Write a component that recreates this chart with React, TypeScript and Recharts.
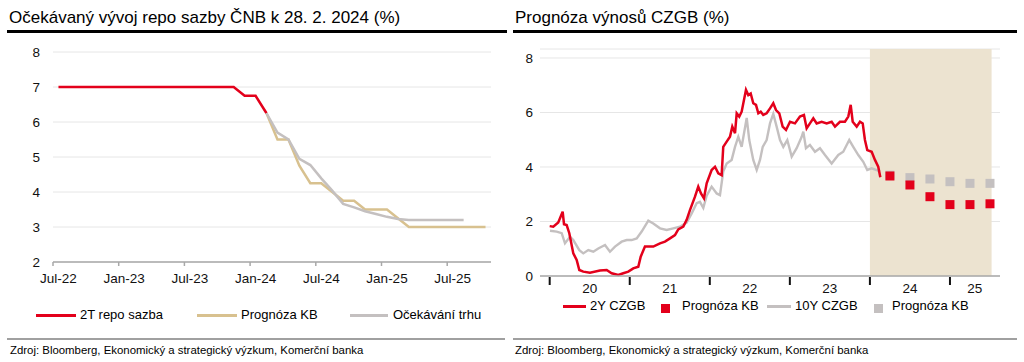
import { LineChart, ComposedChart, Line, Scatter, XAxis, YAxis, CartesianGrid, ReferenceArea } from 'recharts';

const FONT = '"Liberation Sans", Arial, sans-serif';
const RED = '#e3001b';
const GOLD = '#d8c18f';
const GREY = '#c4c0c0';
const GRID = '#e6e6e6';
const AXIS = '#a8a8a8';
const SHADE = '#ece3d0';

// ---- left chart: monthly, Jul-22 .. Oct-25
const months = [
  'Jul-22', 'Aug-22', 'Sep-22', 'Oct-22', 'Nov-22', 'Dec-22',
  'Jan-23', 'Feb-23', 'Mar-23', 'Apr-23', 'May-23', 'Jun-23', 'Jul-23', 'Aug-23', 'Sep-23', 'Oct-23', 'Nov-23', 'Dec-23',
  'Jan-24', 'Feb-24', 'Mar-24', 'Apr-24', 'May-24', 'Jun-24', 'Jul-24', 'Aug-24', 'Sep-24', 'Oct-24', 'Nov-24', 'Dec-24',
  'Jan-25', 'Feb-25', 'Mar-25', 'Apr-25', 'May-25', 'Jun-25', 'Jul-25', 'Aug-25', 'Sep-25', 'Oct-25',
];
const leftTickLabels = ['Jul-22', 'Jan-23', 'Jul-23', 'Jan-24', 'Jul-24', 'Jan-25', 'Jul-25'];
// Jul-22 .. Feb-24
const repoRate = [7, 7, 7, 7, 7, 7, 7, 7, 7, 7, 7, 7, 7, 7, 7, 7, 7, 6.75, 6.75, 6.25];
// Feb-24 .. Oct-25
const kbForecast = [6.25, 5.5, 5.5, 4.75, 4.25, 4.25, 4.0, 3.75, 3.75, 3.5, 3.5, 3.5, 3.25, 3.0, 3.0, 3.0, 3.0, 3.0, 3.0, 3.0, 3.0];
// Feb-24 .. Aug-25
const marketExp = [6.25, 5.7, 5.5, 4.95, 4.77, 4.39, 4.04, 3.66, 3.56, 3.45, 3.37, 3.29, 3.23, 3.2, 3.2, 3.2, 3.2, 3.2, 3.2];
const leftYTicks = [2, 3, 4, 5, 6, 7, 8];

// ---- right chart: dates as fractional years
const y2Dates = [
  2020.0, 2020.045, 2020.107, 2020.162, 2020.179, 2020.212, 2020.245, 2020.295, 2020.337, 2020.37, 2020.42, 2020.503,
  2020.628, 2020.712, 2020.774, 2020.857, 2020.919, 2020.982, 2021.044, 2021.107, 2021.137, 2021.19, 2021.294, 2021.378,
  2021.44, 2021.503, 2021.565, 2021.606, 2021.669, 2021.711, 2021.752, 2021.815, 2021.856, 2021.89, 2021.927, 2021.961,
  2022.023, 2022.065, 2022.106, 2022.148, 2022.168, 2022.211, 2022.252, 2022.281, 2022.315, 2022.336, 2022.368, 2022.398,
  2022.452, 2022.481, 2022.511, 2022.543, 2022.577, 2022.606, 2022.636, 2022.668, 2022.71, 2022.752, 2022.793, 2022.827,
  2022.868, 2022.91, 2022.952, 2023.002, 2023.064, 2023.126, 2023.176, 2023.21, 2023.251, 2023.293, 2023.335, 2023.397,
  2023.46, 2023.522, 2023.564, 2023.626, 2023.688, 2023.73, 2023.76, 2023.785, 2023.835, 2023.876, 2023.91, 2023.938,
  2023.967, 2024.022, 2024.063, 2024.104, 2024.13,
];
const y2Values = [
  1.83, 1.81, 1.96, 2.36, 1.9, 1.87, 1.57, 0.83, 0.59, 0.22, 0.16, 0.12,
  0.2, 0.22, 0.1, 0.04, 0.1, 0.16, 0.28, 0.34, 0.71, 1.08, 1.08, 1.2,
  1.26, 1.38, 1.5, 1.71, 1.81, 2.06, 2.42, 2.91, 3.28, 3.03, 2.85, 3.4,
  3.89, 4.01, 3.77, 3.7, 4.74, 4.93, 5.11, 5.48, 5.24, 5.97, 5.85, 6.03,
  6.83, 6.64, 6.7, 6.34, 6.28, 5.97, 6.03, 5.91, 5.97, 6.15, 6.34, 6.09,
  5.97, 5.48, 5.36, 5.66, 5.6, 5.85, 5.91, 5.42, 5.6, 5.79, 5.6, 5.66,
  5.6, 5.66, 5.48, 5.66, 5.66, 5.85, 6.28, 5.66, 5.48, 5.66, 5.6, 4.99,
  4.62, 4.56, 4.26, 4.01, 3.62,
];
const y10Dates = [
  2020.004, 2020.087, 2020.15, 2020.191, 2020.254, 2020.295, 2020.37, 2020.42, 2020.482, 2020.545, 2020.607, 2020.691,
  2020.753, 2020.816, 2020.899, 2020.962, 2021.024, 2021.087, 2021.149, 2021.232, 2021.294, 2021.378, 2021.461, 2021.544,
  2021.628, 2021.711, 2021.774, 2021.836, 2021.877, 2021.919, 2021.961, 2022.023, 2022.086, 2022.127, 2022.168, 2022.211,
  2022.273, 2022.315, 2022.356, 2022.398, 2022.461, 2022.493, 2022.543, 2022.586, 2022.627, 2022.661, 2022.71, 2022.752,
  2022.793, 2022.835, 2022.877, 2022.918, 2022.968, 2023.023, 2023.085, 2023.148, 2023.168, 2023.201, 2023.251, 2023.314,
  2023.376, 2023.439, 2023.522, 2023.605, 2023.667, 2023.742, 2023.792, 2023.855, 2023.917, 2023.967, 2024.022, 2024.084,
  2024.126,
];
const y10Values = [
  1.66, 1.63, 1.57, 1.2, 1.44, 1.32, 0.95, 0.83, 0.95, 0.89, 1.01, 1.14,
  0.89, 1.08, 1.26, 1.32, 1.32, 1.38, 1.63, 2.03, 1.93, 1.75, 1.69, 1.75,
  1.81, 1.96, 2.3, 2.67, 2.72, 2.5, 2.95, 3.28, 3.03, 2.97, 3.83, 4.13,
  4.26, 4.74, 5.11, 4.74, 5.8, 4.99, 4.26, 3.89, 4.26, 4.74, 4.99, 5.6,
  5.95, 5.48, 4.99, 4.74, 4.99, 4.38, 4.69, 5.11, 5.3, 4.69, 4.81, 4.56,
  4.69, 4.44, 4.13, 4.44, 4.56, 4.99, 4.74, 4.44, 4.19, 3.89, 3.95, 3.89,
  3.83,
];
const forecastQuarters = [2024.25, 2024.5, 2024.75, 2025.0, 2025.25, 2025.5];
const kb2Y = [3.67, 3.34, 2.91, 2.62, 2.62, 2.65];
const kb10Y = [3.7, 3.61, 3.56, 3.46, 3.4, 3.4];
const rightYearLabels = ['20', '21', '22', '23', '24', '25'];
const rightYearStarts = [2020, 2021, 2022, 2023, 2024, 2025];
const rightLabelPos = [2020.5, 2021.5, 2022.5, 2023.5, 2024.5, 2025.31];
const rightYTicks = [0, 2, 4, 6, 8];

const leftData = months.map((m, i) => ({
  x: i + 0.5,
  label: m,
  repo: i < repoRate.length ? repoRate[i] : undefined,
  kb: i >= 19 && i - 19 < kbForecast.length ? kbForecast[i - 19] : undefined,
  mkt: i >= 19 && i - 19 < marketExp.length ? marketExp[i - 19] : undefined,
}));
const leftTicks = leftTickLabels.map(l => months.indexOf(l));

const y2Data = y2Dates.map((x, i) => ({ x, v: y2Values[i] }));
const y10Data = y10Dates.map((x, i) => ({ x, v: y10Values[i] }));
const kb2Data = forecastQuarters.map((x, i) => ({ x, v: kb2Y[i] }));
const kb10Data = forecastQuarters.map((x, i) => ({ x, v: kb10Y[i] }));

function LeftTick({ x, y, payload }: any) {
  return (
    <g>
      <line x1={x} x2={x} y1={y} y2={y + 4} stroke={AXIS} strokeWidth={1.5} />
      <text x={x + 5.5} y={y + 21} textAnchor="middle" fontSize={13.5} fill="#111" fontFamily={FONT}>
        {months[payload.value]}
      </text>
    </g>
  );
}

function RightTick({ x, y, payload }: any) {
  const yi = rightYearStarts.indexOf(payload.value);
  if (yi >= 0) return <line x1={x} x2={x} y1={y + 1} y2={y + 9} stroke="#111" strokeWidth={2} />;
  const li = rightLabelPos.indexOf(payload.value);
  return (
    <text x={x} y={y + 17} textAnchor="middle" fontSize={13.5} fill="#111" fontFamily={FONT}>
      {rightYearLabels[li]}
    </text>
  );
}

const square = (color: string) => (p: any) => (
  <rect x={p.cx - 4.5} y={p.cy - 4.5} width={9} height={9} fill={color} />
);

const txt: React.CSSProperties = { position: 'absolute', fontFamily: FONT, color: '#000', whiteSpace: 'nowrap' };

function LegendLine({ left, top, width, color }: any) {
  return <div style={{ position: 'absolute', left, top, width, height: 3, background: color }} />;
}

export default function App() {
  return (
    <div style={{ position: 'absolute', left: 0, top: 0, width: 1024, height: 362, background: '#fff', fontFamily: FONT }}>
      {/* titles */}
      <div style={{ ...txt, left: 9, top: 8, fontSize: 17, lineHeight: '20px' }}>Očekávaný vývoj repo sazby ČNB k 28. 2. 2024 (%)</div>
      <div style={{ ...txt, left: 515, top: 8, fontSize: 17, lineHeight: '20px' }}>Prognóza výnosů CZGB (%)</div>
      <div style={{ position: 'absolute', left: 7, top: 30, width: 500, height: 3, background: '#000' }} />
      <div style={{ position: 'absolute', left: 513, top: 30, width: 504, height: 3, background: '#000' }} />

      {/* left chart */}
      <div style={{ position: 'absolute', left: 0, top: 0 }}>
        <LineChart width={512} height={300} data={leftData} margin={{ top: 52, right: 21, bottom: 8, left: 8 }}>
          <CartesianGrid horizontal vertical={false} stroke={GRID} />
          <XAxis type="number" dataKey="x" domain={[0, 40]} ticks={leftTicks} interval={0}
                 stroke={AXIS} strokeWidth={1.5} tickLine={false} tickSize={0} tickMargin={0} height={30} tick={<LeftTick />} />
          <YAxis domain={[2, 8]} ticks={leftYTicks} axisLine={false} tickLine={false} tickSize={0} tickMargin={13} width={45}
                 tick={{ fontSize: 13.5, fill: '#111', fontFamily: FONT }} />
          <Line dataKey="repo" stroke={RED} strokeWidth={2.5} dot={false} isAnimationActive={false} />
          <Line dataKey="kb" stroke={GOLD} strokeWidth={2.5} dot={false} isAnimationActive={false} />
          <Line dataKey="mkt" stroke={GREY} strokeWidth={2.5} dot={false} isAnimationActive={false} />
        </LineChart>
      </div>

      {/* right chart */}
      <div style={{ position: 'absolute', left: 512, top: 0 }}>
        <ComposedChart width={512} height={300} margin={{ top: 49, right: 24, bottom: 4, left: 0 }}>
          <CartesianGrid horizontal vertical={false} stroke={GRID} />
          <XAxis type="number" dataKey="x" domain={[2019.879, 2025.625]} ticks={[...rightYearStarts, ...rightLabelPos].sort((a, b) => a - b)}
                 interval={0} stroke={AXIS} strokeWidth={1.5} tickLine={false} tickSize={0} tickMargin={0} height={20} tick={<RightTick />} />
          <YAxis domain={[0, 8.33]} ticks={rightYTicks} axisLine={false} tickLine={false} tickSize={0} tickMargin={7} width={28}
                 tick={{ fontSize: 13.5, fill: '#111', fontFamily: FONT }} />
          <ReferenceArea x1={2024} x2={2025.52} y1={0} y2={8.33} fill={SHADE} fillOpacity={1} stroke="none" />
          <Line data={y10Data} dataKey="v" stroke={GREY} strokeWidth={2.4} dot={false} isAnimationActive={false} />
          <Line data={y2Data} dataKey="v" stroke={RED} strokeWidth={2.5} dot={false} isAnimationActive={false} />
          <Scatter data={kb10Data} dataKey="v" shape={square(GREY)} isAnimationActive={false} />
          <Scatter data={kb2Data} dataKey="v" shape={square(RED)} isAnimationActive={false} />
        </ComposedChart>
      </div>

      {/* left legend */}
      <LegendLine left={36} top={314} width={40} color={RED} />
      <div style={{ ...txt, left: 80, top: 307, fontSize: 13, lineHeight: '16px' }}>2T repo sazba</div>
      <LegendLine left={197} top={314} width={40} color={GOLD} />
      <div style={{ ...txt, left: 241, top: 307, fontSize: 13, lineHeight: '16px' }}>Prognóza KB</div>
      <LegendLine left={350} top={314} width={38} color={GREY} />
      <div style={{ ...txt, left: 393, top: 307, fontSize: 13, lineHeight: '16px' }}>Očekávání trhu</div>

      {/* right legend */}
      <LegendLine left={563} top={305} width={23} color={RED} />
      <div style={{ ...txt, left: 590, top: 298, fontSize: 13, lineHeight: '16px' }}>2Y CZGB</div>
      <div style={{ position: 'absolute', left: 661, top: 304, width: 9, height: 9, background: RED }} />
      <div style={{ ...txt, left: 682, top: 298, fontSize: 13, lineHeight: '16px' }}>Prognóza KB</div>
      <LegendLine left={767} top={305} width={24} color={GREY} />
      <div style={{ ...txt, left: 795, top: 298, fontSize: 13, lineHeight: '16px' }}>10Y CZGB</div>
      <div style={{ position: 'absolute', left: 874, top: 304, width: 9, height: 9, background: GREY }} />
      <div style={{ ...txt, left: 892, top: 298, fontSize: 13, lineHeight: '16px' }}>Prognóza KB</div>

      {/* footers */}
      <div style={{ position: 'absolute', left: 7, top: 338, width: 498, height: 2, background: '#a0a0a0' }} />
      <div style={{ position: 'absolute', left: 513, top: 338, width: 504, height: 2, background: '#a0a0a0' }} />
      <div style={{ ...txt, left: 10, top: 343, fontSize: 11.4, lineHeight: '14px' }}>Zdroj: Bloomberg, Ekonomický a strategický výzkum, Komerční banka</div>
      <div style={{ ...txt, left: 515, top: 343, fontSize: 11.4, lineHeight: '14px' }}>Zdroj: Bloomberg, Ekonomický a strategický výzkum, Komerční banka</div>
    </div>
  );
}
